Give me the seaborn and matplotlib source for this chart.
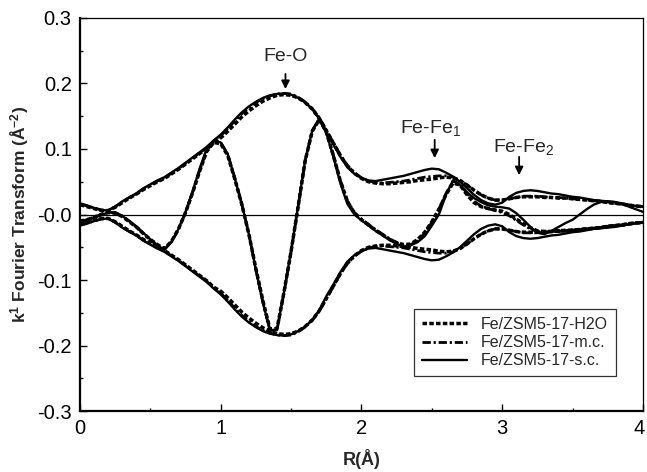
import numpy as np
import matplotlib

matplotlib.use("Agg")
import matplotlib.pyplot as plt
import matplotlib.transforms as mtransforms
import seaborn as sns

# R grid (Angstrom) shared by every curve
r = np.round(np.arange(0, 4.0001, 0.05), 2)

# |FT| and Im(FT)
mag_h2o = [
    0.015, 0.012, 0.009, 0.006, 0.006, 0.011, 0.018, 0.025, 0.031, 0.038,
    0.044, 0.050, 0.055, 0.062, 0.069, 0.077, 0.085, 0.093, 0.101, 0.111,
    0.117, 0.127, 0.138, 0.149, 0.158, 0.166, 0.173, 0.178, 0.182, 0.183,
    0.182, 0.178, 0.171, 0.161, 0.147, 0.128, 0.109, 0.090, 0.074, 0.063,
    0.055, 0.050, 0.048, 0.047, 0.047, 0.048, 0.049, 0.050, 0.052, 0.053,
    0.054, 0.056, 0.057, 0.056, 0.052, 0.045, 0.037, 0.030, 0.025, 0.022,
    0.022, 0.024, 0.026, 0.027, 0.027, 0.027, 0.026, 0.026, 0.025, 0.025,
    0.024, 0.023, 0.022, 0.021, 0.020, 0.018, 0.017, 0.016, 0.014, 0.013,
    0.012,
]
imag_h2o = [
    -0.010, -0.008, -0.004, 0.000, 0.003, 0.002, -0.003, -0.011, -0.019, -0.029,
    -0.038, -0.046, -0.052, -0.041, -0.022, 0.003, 0.033, 0.066, 0.096, 0.110,
    0.108, 0.090, 0.054, 0.015, -0.030, -0.083, -0.132, -0.175, -0.174, -0.118,
    -0.056, 0.012, 0.082, 0.127, 0.145, 0.126, 0.090, 0.051, 0.020, 0.002,
    -0.008, -0.016, -0.024, -0.031, -0.038, -0.043, -0.046, -0.045, -0.038, -0.027,
    -0.011, 0.008, 0.030, 0.048, 0.045, 0.030, 0.018, 0.012, 0.009, 0.007,
    0.005, 0.000, -0.007, -0.014, -0.020, -0.025, -0.026, -0.026, -0.025, -0.024,
    -0.024, -0.023, -0.022, -0.021, -0.020, -0.018, -0.017, -0.016, -0.014, -0.013,
    -0.012,
]
mag_mc = [
    0.016, 0.013, 0.010, 0.007, 0.006, 0.012, 0.019, 0.026, 0.032, 0.039,
    0.045, 0.051, 0.056, 0.063, 0.070, 0.078, 0.086, 0.094, 0.102, 0.112,
    0.120, 0.131, 0.143, 0.154, 0.163, 0.171, 0.177, 0.181, 0.184, 0.185,
    0.184, 0.179, 0.172, 0.162, 0.148, 0.129, 0.110, 0.091, 0.075, 0.064,
    0.056, 0.051, 0.049, 0.048, 0.049, 0.050, 0.051, 0.053, 0.055, 0.057,
    0.058, 0.059, 0.059, 0.057, 0.052, 0.045, 0.037, 0.030, 0.025, 0.022,
    0.022, 0.024, 0.026, 0.028, 0.028, 0.028, 0.027, 0.026, 0.026, 0.025,
    0.024, 0.023, 0.022, 0.021, 0.020, 0.019, 0.017, 0.016, 0.015, 0.013,
    0.012,
]
imag_mc = [
    -0.011, -0.008, -0.004, 0.000, 0.003, 0.003, -0.002, -0.010, -0.019, -0.029,
    -0.039, -0.047, -0.053, -0.042, -0.023, 0.003, 0.034, 0.067, 0.097, 0.111,
    0.110, 0.092, 0.056, 0.016, -0.030, -0.084, -0.134, -0.177, -0.176, -0.119,
    -0.057, 0.012, 0.082, 0.128, 0.146, 0.127, 0.091, 0.052, 0.021, 0.003,
    -0.007, -0.015, -0.023, -0.030, -0.037, -0.043, -0.047, -0.046, -0.040, -0.028,
    -0.012, 0.008, 0.032, 0.051, 0.047, 0.032, 0.020, 0.013, 0.009, 0.006,
    0.003, -0.002, -0.009, -0.016, -0.022, -0.026, -0.027, -0.026, -0.025, -0.025,
    -0.024, -0.023, -0.022, -0.021, -0.020, -0.018, -0.017, -0.016, -0.015, -0.013,
    -0.012,
]
mag_sc = [
    0.017, 0.014, 0.010, 0.007, 0.006, 0.012, 0.020, 0.026, 0.032, 0.040,
    0.046, 0.052, 0.057, 0.064, 0.071, 0.079, 0.087, 0.095, 0.103, 0.113,
    0.122, 0.133, 0.145, 0.156, 0.165, 0.172, 0.178, 0.182, 0.184, 0.185,
    0.183, 0.178, 0.171, 0.161, 0.146, 0.125, 0.107, 0.088, 0.072, 0.062,
    0.056, 0.052, 0.051, 0.053, 0.055, 0.057, 0.059, 0.062, 0.065, 0.068,
    0.070, 0.069, 0.064, 0.058, 0.050, 0.040, 0.030, 0.022, 0.017, 0.015,
    0.018, 0.027, 0.033, 0.036, 0.037, 0.036, 0.034, 0.032, 0.031, 0.029,
    0.027, 0.026, 0.024, 0.022, 0.021, 0.020, 0.019, 0.017, 0.015, 0.013,
    0.012,
]
imag_sc = [
    -0.012, -0.009, -0.005, -0.001, 0.003, 0.003, -0.002, -0.010, -0.018, -0.028,
    -0.038, -0.047, -0.054, -0.042, -0.022, 0.004, 0.035, 0.070, 0.100, 0.113,
    0.110, 0.092, 0.055, 0.016, -0.030, -0.085, -0.135, -0.177, -0.176, -0.118,
    -0.055, 0.013, 0.083, 0.128, 0.146, 0.125, 0.088, 0.048, 0.016, 0.000,
    -0.009, -0.017, -0.025, -0.032, -0.039, -0.045, -0.049, -0.047, -0.042, -0.033,
    -0.017, 0.000, 0.030, 0.052, 0.045, 0.034, 0.025, 0.019, 0.014, 0.012,
    0.011, 0.009, 0.002, -0.008, -0.019, -0.028, -0.030, -0.025, -0.019, -0.013,
    -0.008, 0.000, 0.008, 0.015, 0.019, 0.020, 0.019, 0.016, 0.012, 0.008,
    0.004,
]

labels = ["Fe/ZSM5-17-H2O", "Fe/ZSM5-17-m.c.", "Fe/ZSM5-17-s.c."]
x_ticks = [0, 1, 2, 3, 4]
y_ticks = [-0.3, -0.2, -0.1, 0.0, 0.1, 0.2, 0.3]
y_tick_labels = ["-0.3", "-0.2", "-0.1", "-0.0", "0.1", "0.2", "0.3"]
peak_names = ["Fe-O", "Fe-Fe$_1$", "Fe-Fe$_2$"]
peak_r = [1.46, 2.52, 3.12]

sns.set_theme(style="ticks")
plt.rcParams["font.family"] = ["Liberation Sans", "DejaVu Sans"]
plt.rcParams["mathtext.fontset"] = "custom"
plt.rcParams["mathtext.rm"] = "Liberation Sans"
plt.rcParams["mathtext.it"] = "Liberation Sans"
plt.rcParams["mathtext.bf"] = "Liberation Sans:bold"

fig = plt.figure(figsize=(6.47, 4.72), dpi=100)
ax = fig.add_axes([0.1236, 0.1292, 0.8702, 0.8327])

ax.axhline(0, color="black", lw=0.9, zorder=1)

series = [
    (mag_h2o, imag_h2o, (0, (1.3, 0.65)), 2.5),
    (mag_mc, imag_mc, (0, (3.0, 1.0, 0.8, 1.0)), 2.0),
    (mag_sc, imag_sc, "-", 1.7),
]
handles = []
for (mag, imag, ls, lw), name in zip(series, labels):
    mag = np.asarray(mag)
    for y in (mag, -mag, np.asarray(imag)):
        sns.lineplot(x=r, y=y, ax=ax, color="black", linestyle=ls, lw=lw,
                     errorbar=None, zorder=3)
    handles.append(plt.Line2D([], [], color="black", linestyle=ls, lw=lw, label=name))

# peak labels with arrows
text_y = [0.2405, 0.132, 0.103]
arrow_top = [0.2145, 0.114, 0.088]
arrow_tip = [0.1915, 0.086, 0.060]
text_dx = [0.0, -0.03, 0.03]
for name, x0, ty, a0, a1, dx in zip(peak_names, peak_r, text_y, arrow_top, arrow_tip, text_dx):
    ax.text(x0 + dx, ty, name, ha="center", va="center", fontsize=14)
    ax.annotate("", xy=(x0, a1), xytext=(x0, a0),
                arrowprops=dict(arrowstyle="-|>", color="black", lw=1.3,
                                mutation_scale=12, shrinkA=0, shrinkB=0))

ax.set_xlim(0, 4)
ax.set_ylim(-0.3, 0.3)
ax.set_xticks(x_ticks)
ax.set_xticklabels([str(t) for t in x_ticks])
ax.set_yticks(y_ticks)
ax.set_yticklabels(y_tick_labels)
ax.set_xticks(np.arange(0.5, 4, 1.0), minor=True)
ax.set_yticks(np.arange(-0.25, 0.3, 0.1), minor=True)
ax.tick_params(which="both", direction="in", top=False, right=False,
               colors="black", width=1.0, labelsize=14.5)
ax.tick_params(which="major", length=5, pad=6)
ax.tick_params(which="minor", length=2.5)

# keep the last x label inside the canvas
last = ax.get_xticklabels()[-1]
last.set_transform(last.get_transform() + mtransforms.ScaledTranslation(-4 / 100, 0, fig.dpi_scale_trans))

for side in ("left", "bottom"):
    ax.spines[side].set_linewidth(1.6)
for side in ("top", "right"):
    ax.spines[side].set_linewidth(0.9)
for sp in ax.spines.values():
    sp.set_color("black")
    sp.set_visible(True)

ax.set_xlabel("R(Å)", fontsize=13, fontweight="bold", labelpad=8)
ax.set_ylabel(r"k$^\mathbf{1}$ Fourier Transform (Å$^\mathbf{-2}$)",
              fontsize=12.5, fontweight="bold", labelpad=4)

leg = ax.legend(handles=handles, loc="upper right", bbox_to_anchor=(0.952, 0.2595),
                borderaxespad=0, fontsize=11.5, frameon=True, fancybox=False,
                handlelength=2.8, handletextpad=0.9, labelspacing=0.2,
                borderpad=0.5)
leg.get_frame().set_edgecolor("black")
leg.get_frame().set_linewidth(0.9)

fig.savefig("out.png", dpi=100)
